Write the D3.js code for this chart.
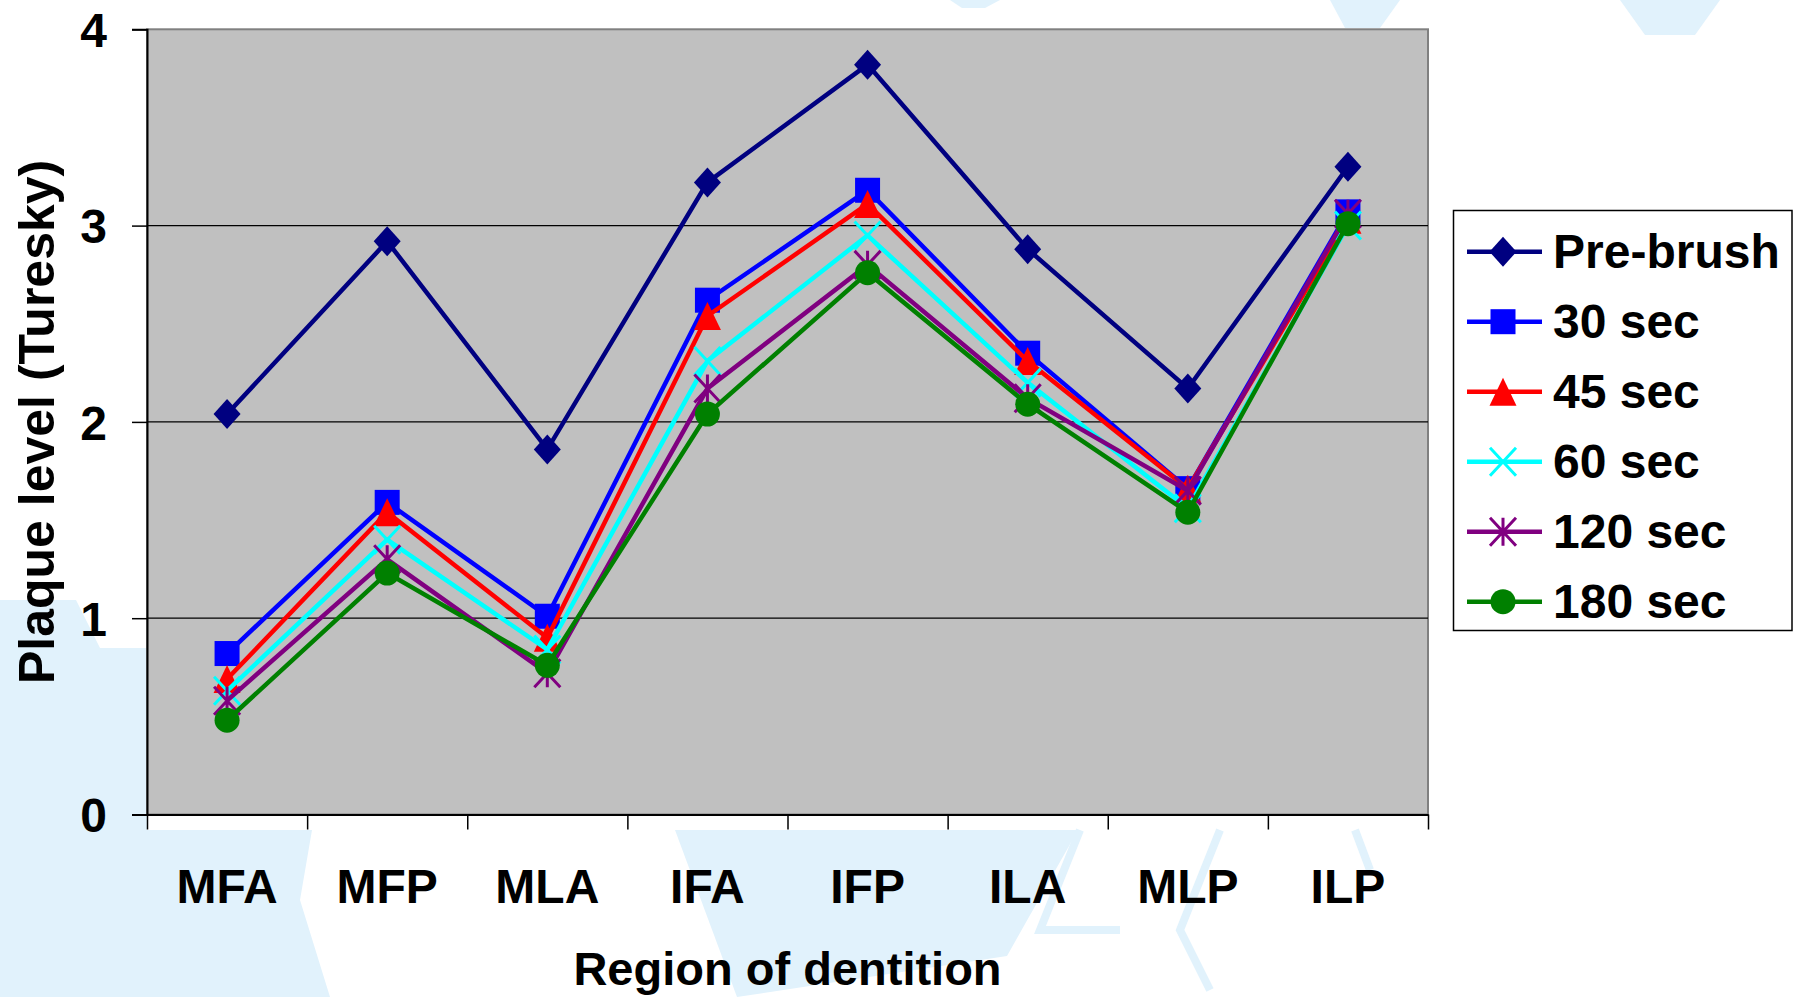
<!DOCTYPE html>
<html>
<head>
<meta charset="utf-8">
<script src="https://cdn.jsdelivr.net/npm/d3@7"></script>
<style>
  html, body { margin: 0; padding: 0; background: #ffffff; }
  svg { display: block; }
  text { font-family: "Liberation Sans", Arial, Helvetica, sans-serif; font-weight: bold; fill: #000; }
</style>
</head>
<body>
<svg id="chart" width="1799" height="997"></svg>
<script>
// Regions of dentition along the x axis
const categories = ["MFA", "MFP", "MLA", "IFA", "IFP", "ILA", "MLP", "ILP"];

// Plaque level (Turesky index) per brushing time
const preBrush = [2.04, 2.92, 1.86, 3.22, 3.82, 2.88, 2.17, 3.30];
const sec30    = [0.82, 1.59, 1.01, 2.62, 3.18, 2.35, 1.66, 3.07];
const sec45    = [0.69, 1.54, 0.90, 2.54, 3.11, 2.31, 1.66, 3.03];
const sec60    = [0.63, 1.40, 0.84, 2.31, 2.95, 2.20, 1.56, 3.00];
const sec120   = [0.58, 1.30, 0.72, 2.17, 2.80, 2.12, 1.65, 3.06];
const sec180   = [0.48, 1.23, 0.76, 2.04, 2.76, 2.09, 1.54, 3.01];

const seriesNames = ["Pre-brush", "30 sec", "45 sec", "60 sec", "120 sec", "180 sec"];
const yTicks = [0, 1, 2, 3, 4];

const series = [
  { name: seriesNames[0], values: preBrush, color: "#000080", marker: "diamond" },
  { name: seriesNames[1], values: sec30,    color: "#0000FF", marker: "square" },
  { name: seriesNames[2], values: sec45,    color: "#FF0000", marker: "triangle" },
  { name: seriesNames[3], values: sec60,    color: "#00FFFF", marker: "x" },
  { name: seriesNames[4], values: sec120,   color: "#800080", marker: "star" },
  { name: seriesNames[5], values: sec180,   color: "#008000", marker: "circle" }
];

const svg = d3.select("#chart");

// Soft light-blue backdrop shapes behind the chart
const bg = svg.append("g").attr("fill", "#E1F2FC");
[
  [[0,600],[76,600],[100,648],[147,648],[147,997],[0,997]],
  [[0,830],[312,830],[300,900],[330,997],[0,997]],
  [[675,830],[1078,830],[1007,956],[737,997]],
  [[950,0],[1000,0],[985,8],[962,8]],
  [[1330,0],[1400,0],[1380,28],[1345,28]],
  [[1620,0],[1720,0],[1695,35],[1645,35]]
].forEach(p => bg.append("polygon").attr("points", p.map(d => d.join(",")).join(" ")));

// Thin hexagon outlines in the lower right
const bgLines = svg.append("g").attr("fill", "none").attr("stroke", "#E1F2FC").attr("stroke-width", 8);
[
  [[1080,830],[1040,930],[1120,930]],
  [[1220,830],[1180,930],[1210,990]],
  [[1355,830],[1370,870]]
].forEach(p => bgLines.append("polyline").attr("points", p.map(d => d.join(",")).join(" ")));

const plot = { left: 147, right: 1428, top: 29.3, bottom: 814.5 };

const x = d3.scaleBand().domain(categories).range([plot.left, plot.right]);
const xEdge = d3.scaleLinear().domain([0, categories.length]).range([plot.left, plot.right]);
const y = d3.scaleLinear().domain([0, 4]).range([plot.bottom, plot.top]);
const cx = c => x(c) + x.bandwidth() / 2;

// Plot area
svg.append("rect")
  .attr("x", plot.left).attr("y", plot.top)
  .attr("width", plot.right - plot.left).attr("height", plot.bottom - plot.top)
  .attr("fill", "#C0C0C0").attr("stroke", "#808080").attr("stroke-width", 2);

// Horizontal gridlines
svg.append("g").selectAll("line")
  .data(yTicks.filter(t => t > 0 && t < 4))
  .join("line")
  .attr("x1", plot.left).attr("x2", plot.right)
  .attr("y1", d => y(d)).attr("y2", d => y(d))
  .attr("stroke", "#000").attr("stroke-width", 1.3);

// Y axis
const yAxis = svg.append("g")
  .attr("transform", `translate(${plot.left},0)`)
  .call(d3.axisLeft(y).tickValues(yTicks).tickFormat(d3.format("d")).tickSize(15).tickPadding(25));
yAxis.select(".domain").attr("stroke", "#000").attr("stroke-width", 2);
yAxis.selectAll(".tick line").attr("stroke", "#000").attr("stroke-width", 1.5);
yAxis.selectAll(".tick text")
  .attr("font-size", 48).attr("font-family", "Liberation Sans, Arial, sans-serif")
  .attr("font-weight", "bold").attr("fill", "#000").attr("dy", "0.36em");

// X axis with ticks between categories
const xAxis = svg.append("g")
  .attr("transform", `translate(0,${plot.bottom})`)
  .call(d3.axisBottom(xEdge).tickValues(d3.range(categories.length + 1)).tickFormat("").tickSize(15).tickSizeOuter(0));
xAxis.select(".domain").attr("stroke", "#000").attr("stroke-width", 2);
xAxis.selectAll(".tick line").attr("stroke", "#000").attr("stroke-width", 1.5);

svg.append("g").selectAll("text")
  .data(categories)
  .join("text")
  .attr("x", d => cx(d)).attr("y", 903)
  .attr("text-anchor", "middle").attr("font-size", 48)
  .text(d => d);

// Axis titles
svg.append("text")
  .attr("x", (plot.left + plot.right) / 2).attr("y", 985)
  .attr("text-anchor", "middle").attr("font-size", 47)
  .text("Region of dentition");

svg.append("text")
  .attr("transform", `translate(54,${(plot.top + plot.bottom) / 2}) rotate(-90)`)
  .attr("text-anchor", "middle").attr("font-size", 50)
  .text("Plaque level (Turesky)");

// Marker shapes
function drawMarker(g, type, color) {
  switch (type) {
    case "diamond":
      g.append("path").attr("d", "M0,-15 L13.5,0 L0,15 L-13.5,0 Z").attr("fill", color);
      break;
    case "square":
      g.append("rect").attr("x", -12.5).attr("y", -12.5).attr("width", 25).attr("height", 25).attr("fill", color);
      break;
    case "triangle":
      g.append("path").attr("d", "M0,-14 L13.5,14 L-13.5,14 Z").attr("fill", color);
      break;
    case "x":
      g.append("path").attr("d", "M-13,-14 L13,14 M13,-14 L-13,14")
        .attr("stroke", color).attr("stroke-width", 3).attr("fill", "none");
      break;
    case "star":
      g.append("path").attr("d", "M-13,-14 L13,14 M13,-14 L-13,14 M0,-14 L0,14")
        .attr("stroke", color).attr("stroke-width", 3).attr("fill", "none");
      break;
    case "circle":
      g.append("circle").attr("r", 12.5).attr("fill", color);
      break;
  }
}

const line = d3.line().x((d, i) => cx(categories[i])).y(d => y(d));

// Series: line first, then its markers
series.forEach(s => {
  const g = svg.append("g");
  g.append("path").datum(s.values)
    .attr("d", line).attr("fill", "none")
    .attr("stroke", s.color).attr("stroke-width", 4.5).attr("stroke-linejoin", "miter");
  s.values.forEach((v, i) => {
    const m = g.append("g").attr("transform", `translate(${cx(categories[i])},${y(v)})`);
    drawMarker(m, s.marker, s.color);
  });
});

// Legend
const legend = svg.append("g");
legend.append("rect")
  .attr("x", 1453.5).attr("y", 210.5).attr("width", 338.5).attr("height", 420)
  .attr("fill", "#fff").attr("stroke", "#000").attr("stroke-width", 1.5);

const rowY = d3.scalePoint().domain(seriesNames).range([251.7, 601.7]);
series.forEach(s => {
  const cy = rowY(s.name);
  legend.append("line")
    .attr("x1", 1467).attr("x2", 1542).attr("y1", cy).attr("y2", cy)
    .attr("stroke", s.color).attr("stroke-width", 4.5);
  const m = legend.append("g").attr("transform", `translate(1503,${cy})`);
  drawMarker(m, s.marker, s.color);
  legend.append("text")
    .attr("x", 1553).attr("y", cy + 16)
    .attr("font-size", 48)
    .text(s.name);
});
</script>
</body>
</html>
